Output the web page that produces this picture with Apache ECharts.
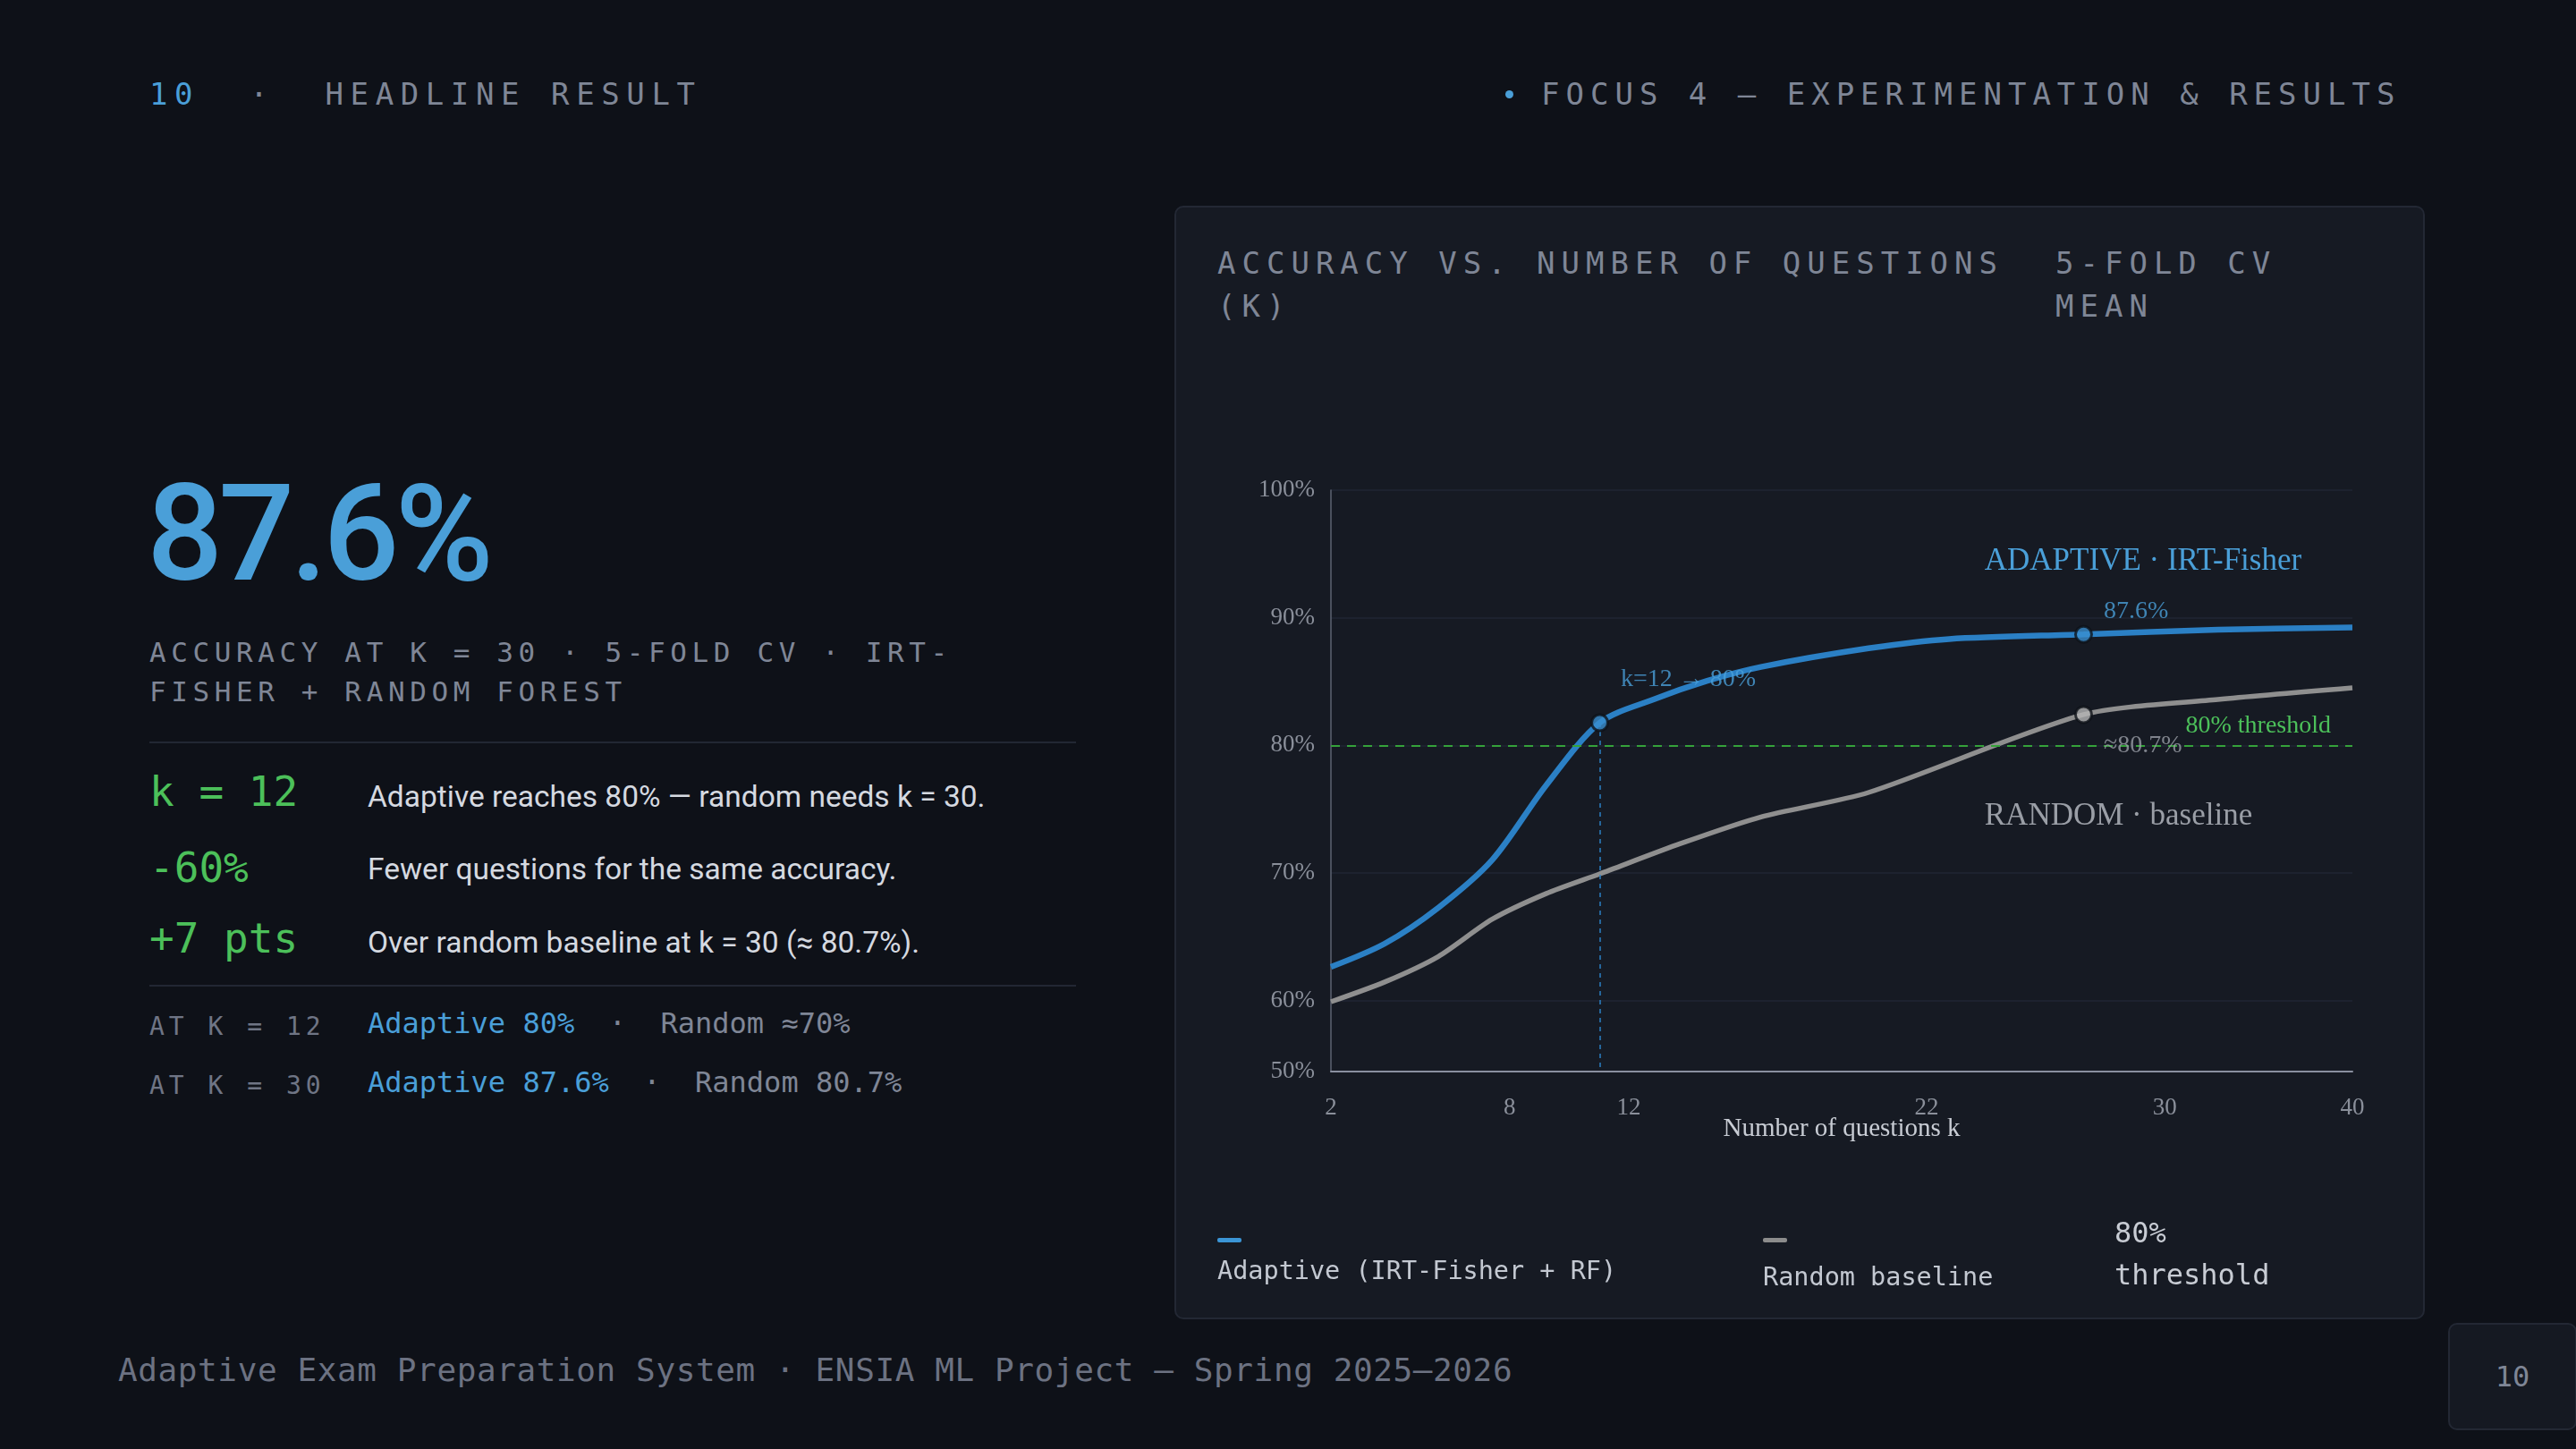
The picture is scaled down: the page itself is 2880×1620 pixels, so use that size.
<!DOCTYPE html>
<html>
<head>
<meta charset="utf-8">
<script src="https://cdn.jsdelivr.net/npm/echarts@6/dist/echarts.min.js"></script>
<style>
  html, body { margin: 0; padding: 0; }
  body {
    width: 2880px; height: 1620px; position: relative; overflow: hidden;
    background: #0e1118; color: #7f8696;
    font-family: "DejaVu Sans Mono", "Liberation Mono", monospace;
  }
  .abs { position: absolute; white-space: pre; }
  .kicker { font-size: 34px; line-height: 40px; letter-spacing: 7px; color: #7f8696; }
  .blue { color: #4a9fd8; }
  .big {
    left: 164px; top: 522px; font-family: Roboto, "Noto Sans", sans-serif; font-weight: 500;
    font-size: 150px; line-height: 150px; letter-spacing: -5px; color: #4a9fd8;
  }
  .sub {
    left: 167px; top: 707px; width: 1040px; white-space: normal;
    font-size: 31px; line-height: 44px; letter-spacing: 5.6px; color: #7f8696;
  }
  .rule { position: absolute; left: 167px; width: 1036px; height: 2px; background: #222733; }
  .stat { font-size: 46px; line-height: 60px; color: #4cc05a; left: 167px; }
  .desc { font-family: Roboto, "Noto Sans", sans-serif; font-size: 33.5px; line-height: 60px; color: #d5d9e0; left: 411px; }
  .atl { font-size: 28px; line-height: 44px; letter-spacing: 5px; color: #6f7585; left: 167px; }
  .atv { font-size: 32px; line-height: 44px; left: 411px; color: #7f8696; }
  .atv b { font-weight: normal; color: #4a9fd8; }
  .footer { left: 132px; top: 1510px; font-size: 36px; line-height: 44px; letter-spacing: 0.6px; color: #6c7282; }
  .pagebox {
    position: absolute; left: 2737px; top: 1479px; width: 140px; height: 116px;
    background: #151922; border: 2px solid #232834; border-radius: 10px;
    font-size: 32px; line-height: 116px; text-align: center; color: #7f8696;
  }
  .panel {
    position: absolute; left: 1313px; top: 230px; width: 1394px; height: 1241px;
    background: #161a23; border: 2px solid #232834; border-radius: 10px;
  }
  #chart { position: absolute; left: 1313px; top: 230px; width: 1398px; height: 1245px; }
  .ctitle { font-size: 34px; line-height: 48px; letter-spacing: 7px; color: #7f8696; white-space: normal; }
  .sw { position: absolute; width: 27px; height: 5px; border-radius: 2px; }
  .lg { font-size: 28.5px; line-height: 40px; color: #c3c8d1; }
</style>
</head>
<body>
<div class="abs kicker" style="left:167px; top:85px; letter-spacing:7.6px;"><span class="blue">10</span>  ·  HEADLINE RESULT</div>
<div class="abs" style="left:1683px; top:101px; width:9px; height:9px; border-radius:50%; background:#4a9fd8;"></div>
<div class="abs kicker" style="left:1723px; top:85px;">FOCUS 4 — EXPERIMENTATION &amp; RESULTS</div>

<div class="abs big">87.6%</div>
<div class="abs sub">ACCURACY AT K = 30 · 5-FOLD CV · IRT-FISHER + RANDOM FOREST</div>
<div class="rule" style="top:829px;"></div>
<div class="abs stat" style="top:855px;">k = 12</div>
<div class="abs desc" style="top:861px;">Adaptive reaches 80% — random needs k = 30.</div>
<div class="abs stat" style="top:940px;">-60%</div>
<div class="abs desc" style="top:942px;">Fewer questions for the same accuracy.</div>
<div class="abs stat" style="top:1019px;">+7 pts</div>
<div class="abs desc" style="top:1024px;">Over random baseline at k = 30 (≈ 80.7%).</div>
<div class="rule" style="top:1101px;"></div>
<div class="abs atl" style="top:1126px;">AT K = 12</div>
<div class="abs atv" style="top:1122px;"><b>Adaptive 80%</b>  ·  Random ≈70%</div>
<div class="abs atl" style="top:1192px;">AT K = 30</div>
<div class="abs atv" style="top:1188px;"><b>Adaptive 87.6%</b>  ·  Random 80.7%</div>

<div class="abs footer">Adaptive Exam Preparation System · ENSIA ML Project — Spring 2025–2026</div>
<div class="pagebox">10</div>

<div class="panel"></div>
<div class="abs ctitle" style="left:1361px; top:270px; width:930px;">ACCURACY VS. NUMBER OF QUESTIONS (K)</div>
<div class="abs ctitle" style="left:2298px; top:270px; width:365px;">5-FOLD CV MEAN</div>

<div id="chart"></div>

<div class="sw" style="left:1361px; top:1384px; background:#3b95d6;"></div>
<div class="abs lg" style="left:1361px; top:1401px;">Adaptive (IRT-Fisher + RF)</div>
<div class="sw" style="left:1971px; top:1384px; background:#8c8c8c;"></div>
<div class="abs lg" style="left:1971px; top:1408px;">Random baseline</div>
<div class="abs lg" style="left:2364px; top:1355px; font-size:32px; line-height:47px; color:#c8ccd4;">80%
threshold</div>

<script>
// accuracy (%) per number of questions k
const adaptiveK = [2, 4, 6, 8, 10, 12, 14, 16, 18, 22, 25, 30, 35, 40];
const adaptiveAcc = [59.0, 61.0, 64.1, 68.2, 74.6, 80.0, 82.0, 83.6, 84.8, 86.4, 87.2, 87.6, 88.0, 88.2];
const randomK = [2, 4, 6, 8, 10, 12, 15, 18, 22, 30, 35, 40];
const randomAcc = [56.0, 57.7, 59.9, 63.1, 65.3, 67.0, 69.6, 71.9, 74.0, 80.7, 82.0, 83.0];
const highlightK = [12, 30];
const threshold = 80;

// tick labels (the label scale of the original is offset from the data scale)
const xTickValues = [2, 8, 12, 22, 30, 36.3];
const xTickLabels = ['2', '8', '12', '22', '30', '40'];
const yTickValues = [54.45, 60, 70, 80, 90, 100];
const yTickLabels = ['50%', '60%', '70%', '80%', '90%', '100%'];

const serif = '"Liberation Serif", "DejaVu Serif", serif';
const blue = '#2b80c5';
const gray = '#8f8f8f';

const zip = (ks, vs) => ks.map((k, i) => [k, vs[i]]);
const accAt = (ks, vs, k) => vs[ks.indexOf(k)];

const a12 = accAt(adaptiveK, adaptiveAcc, highlightK[0]);
const a30 = accAt(adaptiveK, adaptiveAcc, highlightK[1]);
const r30 = accAt(randomK, randomAcc, highlightK[1]);

const markLabel = (text, color, dy, dist) => ({
  show: true, position: 'right', distance: dist, offset: [0, dy], formatter: text,
  color: color, fontSize: 28, fontFamily: serif
});

const chart = echarts.init(document.getElementById('chart'));
chart.setOption({
  animation: false,
  grid: { left: 175, right: 81, top: 318, bottom: 277 },
  xAxis: [
    { type: 'value', min: 2, max: 40, show: false, position: 'top' },
    {
      type: 'value', min: 2, max: xTickValues[xTickValues.length - 1], position: 'bottom',
      name: 'Number of questions k', nameLocation: 'middle', nameGap: 50, nameMoveOverlap: false,
      nameTextStyle: { color: '#c8ccd4', fontSize: 29, fontFamily: serif },
      axisLine: { lineStyle: { color: '#8a90a0', width: 2 } },
      axisTick: { show: false },
      splitLine: { show: false },
      axisLabel: {
        customValues: xTickValues, margin: 27,
        color: '#8a8f9a', fontSize: 27, fontFamily: serif,
        formatter: (v) => xTickLabels[xTickValues.indexOf(v)]
      }
    }
  ],
  yAxis: [
    { type: 'value', min: 50, max: 100, show: false, position: 'right' },
    {
      type: 'value', min: yTickValues[0], max: 100, position: 'left',
      axisLine: { show: true, lineStyle: { color: '#5d6372', width: 1.5 } },
      axisTick: { show: false },
      splitLine: { lineStyle: { color: '#212634', width: 1.5 } },
      axisLabel: {
        customValues: yTickValues, margin: 18,
        color: '#8a8f9a', fontSize: 27, fontFamily: serif,
        formatter: (v) => {
          const i = yTickValues.findIndex((t) => Math.abs(t - v) < 0.01);
          return i >= 0 ? yTickLabels[i] : '';
        }
      }
    }
  ],
  series: [
    {
      name: 'threshold', type: 'line', xAxisIndex: 1, yAxisIndex: 1, data: [],
      markLine: {
        silent: true, symbol: 'none',
        lineStyle: { color: '#35a23a', width: 2, type: [10, 8] },
        label: {
          show: true, position: 'insideEndTop', distance: 8, padding: [0, 16, 0, 0],
          formatter: threshold + '% threshold', color: '#4cc05a', fontSize: 28, fontFamily: serif
        },
        data: [{ yAxis: threshold }]
      }
    },
    {
      name: 'Random baseline', type: 'line', data: zip(randomK, randomAcc),
      smooth: 0.25, symbol: 'none',
      lineStyle: { color: gray, width: 5.5 },
      markPoint: {
        silent: true, symbol: 'circle', symbolSize: 1, itemStyle: { color: 'transparent' },
        data: [{
          coord: [26.3, 71.9],
          label: { show: true, position: 'right', distance: 0, formatter: 'RANDOM · baseline', color: '#9a9ea6', fontSize: 35, fontFamily: serif }
        }]
      }
    },
    {
      name: 'Adaptive', type: 'line', data: zip(adaptiveK, adaptiveAcc),
      smooth: 0.3, symbol: 'none',
      lineStyle: { color: blue, width: 6.5 },
      markLine: {
        silent: true, symbol: 'none', label: { show: false },
        lineStyle: { color: blue, width: 1.5, type: [5, 5] },
        data: [[{ coord: [highlightK[0], a12] }, { coord: [highlightK[0], 50] }]]
      },
      markPoint: {
        silent: true, symbol: 'circle', symbolSize: 1, itemStyle: { color: 'transparent' },
        data: [{
          coord: [26.3, 93.85],
          label: { show: true, position: 'right', distance: 0, formatter: 'ADAPTIVE · IRT-Fisher', color: '#4a9fd8', fontSize: 35, fontFamily: serif }
        }]
      }
    },
    {
      name: 'adaptive marks', type: 'scatter', symbolSize: 18, z: 5,
      itemStyle: { color: '#3a8fd0', borderColor: '#0e1118', borderWidth: 3 },
      data: [
        { value: [highlightK[0], a12], label: markLabel('k=' + highlightK[0] + ' → ' + a12 + '%', '#4a9fd8', -48, 13) },
        { value: [highlightK[1], a30], label: markLabel(a30 + '%', '#4a9fd8', -26, 12) }
      ]
    },
    {
      name: 'random marks', type: 'scatter', symbolSize: 18, z: 5,
      itemStyle: { color: '#b5b5b5', borderColor: '#0e1118', borderWidth: 3 },
      data: [
        { value: [highlightK[1], r30], label: markLabel('≈' + r30 + '%', '#9a9ea6', 35, 12) }
      ]
    }
  ]
});
</script>
</body>
</html>
